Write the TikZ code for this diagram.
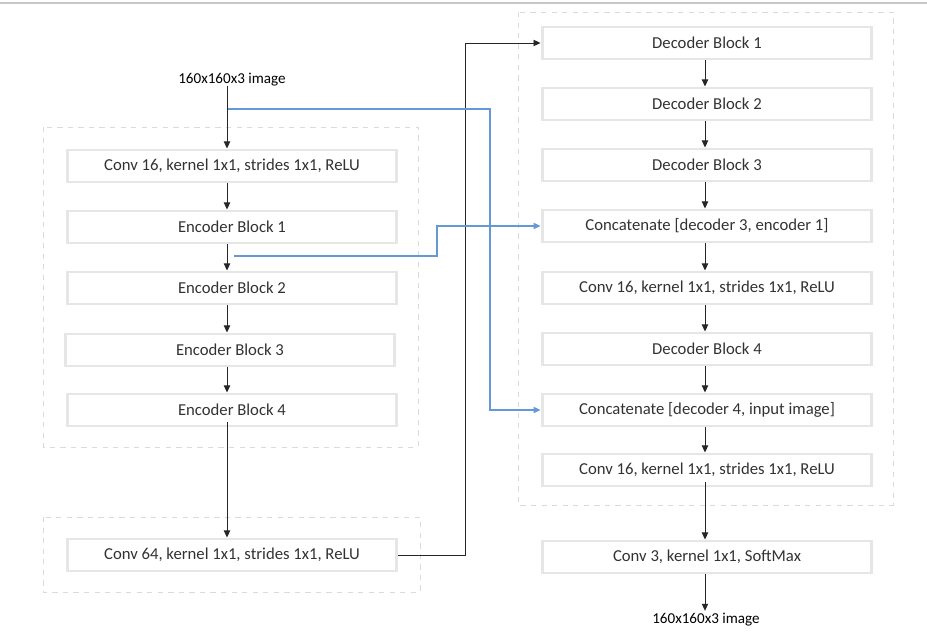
\documentclass[tikz,border=0pt]{standalone}
\usepackage{fontspec}
\setmainfont{Carlito}
\usetikzlibrary{arrows.meta}
\definecolor{boxgray}{RGB}{230,230,230}
\definecolor{dashgray}{RGB}{218,218,218}
\definecolor{skipblue}{RGB}{100,152,215}
\definecolor{textgray}{RGB}{50,50,50}
\tikzset{
  layer/.style={draw=boxgray, line width=1.7pt, minimum width=6.6cm, minimum height=0.64cm,
    inner sep=0pt, text=textgray, font=\fontsize{9.5}{11}\selectfont},
  group/.style={draw=dashgray, dashed, line width=0.4pt},
  flow/.style={-{Triangle[length=4pt,width=3.6pt]}, line width=0.5pt, black!85},
  skip/.style={-{Triangle[length=4pt,width=3.6pt]}, line width=0.6pt, skipblue},
}
\begin{document}
\begin{tikzpicture}[x=0.02cm,y=-0.02cm]
  \useasboundingbox (0,0) rectangle (927,635);
  % Drawing top edge
  \draw [black!22, line width=0.6pt] (0,3) -- (927,3);%

  % Drawing groups
  \draw [group] (43,127) rectangle (418,447);%
  \draw [group] (43,517) rectangle (420,592);%
  \draw [group] (518,12) rectangle (893,505);%

  % Marking input and output
  \node [text=black, font=\fontsize{8.6}{10}\selectfont] (inp) at (232,80) {160x160x3 image};%
  \node [text=black, font=\fontsize{8.6}{10}\selectfont] (outp) at (706,620) {160x160x3 image};%

  % Drawing encoder
  \node [layer] (conv16a) at (232,166) {Conv 16, kernel 1x1, strides 1x1, ReLU};%
  \node [layer] (enc1) at (232,227) {Encoder Block 1};%
  \node [layer] (enc2) at (232,288) {Encoder Block 2};%
  \node [layer] (enc3) at (230,350) {Encoder Block 3};%
  \node [layer] (enc4) at (232,410) {Encoder Block 4};%
  \node [layer] (conv64) at (232,555) {Conv 64, kernel 1x1, strides 1x1, ReLU};%

  % Drawing decoder
  \node [layer] (dec1) at (707,43) {Decoder Block 1};%
  \node [layer] (dec2) at (707,104) {Decoder Block 2};%
  \node [layer] (dec3) at (707,165) {Decoder Block 3};%
  \node [layer] (cat1) at (707,226) {Concatenate [decoder 3, encoder 1]};%
  \node [layer] (conv16b) at (707,288) {Conv 16, kernel 1x1, strides 1x1, ReLU};%
  \node [layer] (dec4) at (707,349) {Decoder Block 4};%
  \node [layer] (cat2) at (707,410) {Concatenate [decoder 4, input image]};%
  \node [layer] (conv16c) at (707,470) {Conv 16, kernel 1x1, strides 1x1, ReLU};%
  \node [layer] (conv3) at (707,557) {Conv 3, kernel 1x1, SoftMax};%

  % Drawing encoder flow
  \coordinate (encol) at (227,0);%
  \draw [flow] ([yshift=4]inp.south -| encol) -- (conv16a.north -| encol);%
  \foreach \a/\b in {conv16a/enc1, enc1/enc2, enc2/enc3, enc3/enc4}
    \draw [flow] (\a.south -| encol) -- (\b.north -| encol);%
  \draw [flow] ([yshift=3]enc4.south -| encol) -- (conv64.north -| encol);%

  % Drawing bridge
  \coordinate (jump) at (465,0);%
  \draw [flow] (conv64.east) -- (conv64.east -| jump) -- (jump |- dec1.west) -- (dec1.west);%

  % Drawing decoder flow
  \coordinate (decol) at (705,0);%
  \foreach \a/\b in {dec1/dec2, dec2/dec3, dec3/cat1, cat1/conv16b, conv16b/dec4, dec4/cat2, cat2/conv16c}
    \draw [flow] (\a.south -| decol) -- (\b.north -| decol);%
  \draw [flow] ([yshift=3]conv16c.south -| decol) -- (conv3.north -| decol);%
  \draw [flow] (conv3.south -| decol) -- ([yshift=-2]outp.north -| decol);%

  % Drawing skip connections
  \coordinate (tap1) at (228,109);%
  \coordinate (skipA) at (490,0);%
  \draw [skip] (tap1) -- (tap1 -| skipA) -- (skipA |- cat2.west) -- (cat2.west);%
  \coordinate (tap2) at (234,256);%
  \coordinate (skipB) at (437,0);%
  \draw [skip] (tap2) -- (tap2 -| skipB) -- (skipB |- cat1.west) -- (cat1.west);%
\end{tikzpicture}
\end{document}
